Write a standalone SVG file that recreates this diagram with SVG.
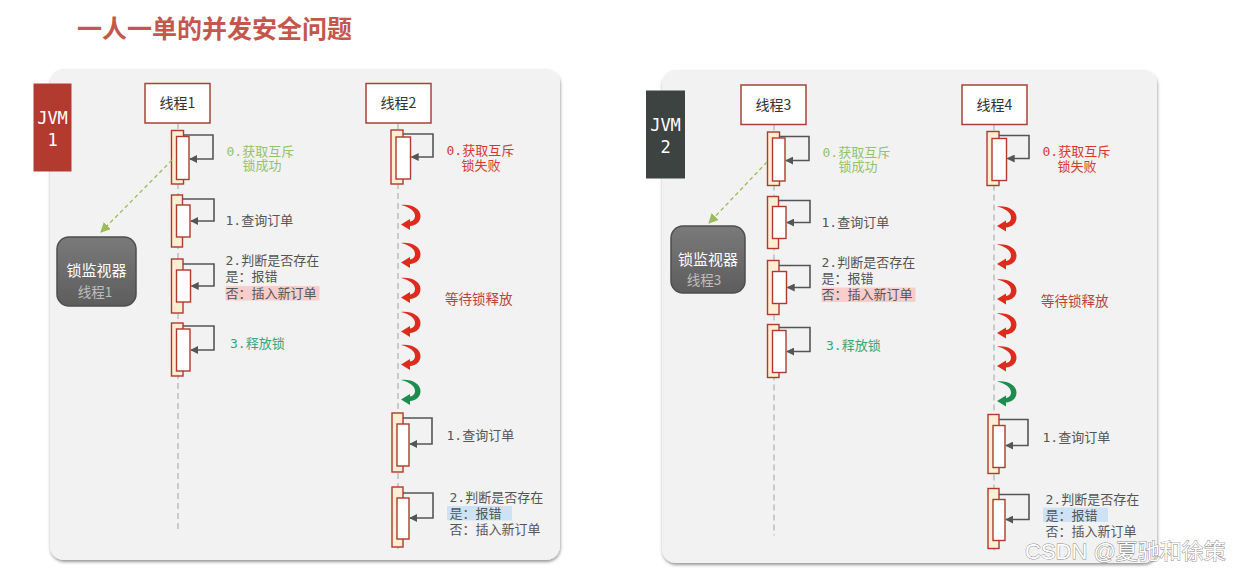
<svg xmlns="http://www.w3.org/2000/svg" xmlns:xlink="http://www.w3.org/1999/xlink" width="1235" height="573" viewBox="0 0 1235 573">
<style>
.panel{fill:#f2f2f2;filter:url(#sh)}
.tbox{fill:#fff;stroke:#a8433a;stroke-width:1.5}
.tlabel{font-family:"Noto Sans CJK SC","Noto Sans",sans-serif;font-size:14px;fill:#333;text-anchor:middle}
.life{stroke:#bdbdbd;stroke-width:1.5;stroke-dasharray:6 4;fill:none}
.ao{fill:#fdeed4;stroke:#b03a2e;stroke-width:1.4}
.ai{fill:#fff;stroke:#b03a2e;stroke-width:1.4}
.self{fill:none;stroke:#555;stroke-width:1.6;marker-end:url(#ah)}
.lb{font-family:"DejaVu Sans Mono","Noto Sans CJK SC",monospace;font-size:13px;fill:#555}
.ok{fill:#93c36c}
.fail{fill:#d23a2e}
.rel{fill:#35a67a}
.wait{font-family:"Noto Sans CJK SC","Noto Sans",sans-serif;font-size:13.5px;fill:#b9443a}
.jvmt{font-family:"DejaVu Sans Mono",monospace;font-size:17px;fill:#fff;text-anchor:middle}
.mon{fill:url(#mg);stroke:#4e4e4e;stroke-width:1.5}
.mt{font-family:"Noto Sans CJK SC","Noto Sans",sans-serif;text-anchor:middle}
.dash{fill:none;stroke:#9bbb59;stroke-width:1.3;stroke-dasharray:4 3;marker-end:url(#gh)}
</style>
<defs>
<filter id="sh" x="-5%" y="-5%" width="110%" height="110%">
<feDropShadow dx="0.5" dy="2" stdDeviation="1.5" flood-color="#000" flood-opacity="0.4"/>
</filter>
<linearGradient id="mg" x1="0" y1="0" x2="0" y2="1">
<stop offset="0" stop-color="#7a7a7a"/>
<stop offset="1" stop-color="#5d5d5d"/>
</linearGradient>
<marker id="ah" viewBox="0 0 10 10" refX="9" refY="5" markerWidth="8" markerHeight="8" markerUnits="userSpaceOnUse" orient="auto">
<path d="M0,0 L10,5 L0,10 z" fill="#555"/>
</marker>
<marker id="gh" viewBox="0 0 10 10" refX="9" refY="5" markerWidth="10" markerHeight="10" markerUnits="userSpaceOnUse" orient="auto">
<path d="M0,0 L10,5 L0,10 z" fill="#9bbb59"/>
</marker>
<path id="curl" d="M0,0 C11,-1 19.5,4 19.5,11 C19.5,17 15,20.5 9,21 L9,25 L0,19.5 L9,14 L9,16.5 C12.5,16 14,13.5 14,11 C14,5.5 8,2 0,0 Z"/>
</defs>

<g id="title">
<text x="77" y="38" font-family="Noto Sans CJK SC,sans-serif" font-size="25" font-weight="bold" fill="#c4574c">一人一单的并发安全问题</text>
</g>

<g id="panel-left"><rect class="panel" x="50" y="69" width="510" height="491" rx="14"/></g>
<g id="panel-right"><rect class="panel" x="662" y="70" width="495" height="493" rx="14"/></g>

<g id="jvm1">
<rect x="33.5" y="83.5" width="38" height="88" fill="#b33a2e"/>
<text class="jvmt" x="52.5" y="124">JVM</text>
<text class="jvmt" x="52.5" y="146">1</text>
</g>
<g id="jvm2">
<rect x="646" y="90.5" width="39" height="88" fill="#3c4341"/>
<text class="jvmt" x="665.5" y="131">JVM</text>
<text class="jvmt" x="665.5" y="153">2</text>
</g>

<g id="monitor1">
<rect class="mon" x="57" y="237" width="79" height="69" rx="12"/>
<text class="mt" x="96.5" y="276" font-size="15" fill="#fff">锁监视器</text>
<text class="mt" x="95" y="296.5" font-size="13.5" fill="#bdbdbd">线程1</text>
</g>
<g id="monitor3">
<rect class="mon" x="671" y="226" width="74" height="67" rx="12"/>
<text class="mt" x="708" y="265" font-size="15" fill="#fff">锁监视器</text>
<text class="mt" x="704" y="285" font-size="13.5" fill="#bdbdbd">线程3</text>
</g>

<g id="thread1">
<line class="life" x1="178" y1="123" x2="178" y2="533"/>
<rect class="tbox" x="145" y="83.5" width="65" height="39.5"/>
<text class="tlabel" x="177.5" y="108">线程1</text>
<rect class="ao" x="171.5" y="130.5" width="12" height="53.5"/><rect class="ai" x="176.5" y="136.5" width="12.5" height="43"/>
<rect class="ao" x="171.5" y="195" width="11" height="52"/><rect class="ai" x="176.5" y="205" width="13.5" height="32"/>
<rect class="ao" x="171.5" y="259" width="11.5" height="54"/><rect class="ai" x="176.5" y="270" width="14" height="32"/>
<rect class="ao" x="171.5" y="323" width="11.5" height="53"/><rect class="ai" x="176.5" y="329" width="13.5" height="42"/>
<text class="lb ok" x="226.5" y="155.5">0.获取互斥</text>
<text class="lb ok" x="262" y="169.5" text-anchor="middle">锁成功</text>
<text class="lb" x="225.5" y="225">1.查询订单</text>
<text class="lb" x="225.5" y="265">2.判断是否存在</text>
<text class="lb" x="225.5" y="281">是：报错</text>
<rect x="225.5" y="286" width="94" height="14.5" fill="#f8cdcc"/>
<text class="lb" x="225.5" y="297.5">否：插入新订单</text>
<text class="lb rel" x="230" y="348">3.释放锁</text>
</g>

<g id="thread2">
<line class="life" x1="398" y1="123" x2="398" y2="550"/>
<rect class="tbox" x="366" y="83.5" width="65" height="39.5"/>
<text class="tlabel" x="398.5" y="108">线程2</text>
<rect class="ao" x="391" y="130" width="12" height="54"/><rect class="ai" x="396" y="137" width="14.5" height="42"/>
<rect class="ao" x="392" y="413" width="11" height="59"/><rect class="ai" x="397" y="424" width="12" height="42"/>
<rect class="ao" x="392" y="487" width="11" height="60"/><rect class="ai" x="397" y="498" width="12" height="41"/>
<text class="lb fail" x="446.5" y="154.5">0.获取互斥</text>
<text class="lb fail" x="481" y="169.5" text-anchor="middle">锁失败</text>
<text class="wait" x="445" y="304">等待锁释放</text>
<text class="lb" x="446.5" y="440">1.查询订单</text>
<text class="lb" x="449.5" y="502">2.判断是否存在</text>
<rect x="447" y="506" width="65" height="14.5" fill="#cde3f5"/>
<text class="lb" x="449.5" y="518">是：报错</text>
<text class="lb" x="449.5" y="534">否：插入新订单</text>
</g>

<g id="thread3" transform="translate(596,1.5)">
<line class="life" x1="178" y1="123" x2="178" y2="534"/>
<rect class="tbox" x="145" y="83.5" width="65" height="39.5"/>
<text class="tlabel" x="177.5" y="108">线程3</text>
<rect class="ao" x="171.5" y="130.5" width="12" height="53.5"/><rect class="ai" x="176.5" y="136.5" width="12.5" height="43"/>
<rect class="ao" x="171.5" y="195" width="11" height="52"/><rect class="ai" x="176.5" y="205" width="13.5" height="32"/>
<rect class="ao" x="171.5" y="259" width="11.5" height="54"/><rect class="ai" x="176.5" y="270" width="14" height="32"/>
<rect class="ao" x="171.5" y="323" width="11.5" height="53"/><rect class="ai" x="176.5" y="329" width="13.5" height="42"/>
<text class="lb ok" x="226.5" y="155.5">0.获取互斥</text>
<text class="lb ok" x="262" y="169.5" text-anchor="middle">锁成功</text>
<text class="lb" x="225.5" y="225">1.查询订单</text>
<text class="lb" x="225.5" y="265">2.判断是否存在</text>
<text class="lb" x="225.5" y="281">是：报错</text>
<rect x="225.5" y="286" width="94" height="14.5" fill="#f8cdcc"/>
<text class="lb" x="225.5" y="297.5">否：插入新订单</text>
<text class="lb rel" x="230" y="348">3.释放锁</text>
</g>

<g id="thread4" transform="translate(596,1.5)">
<line class="life" x1="398" y1="123" x2="398" y2="550"/>
<rect class="tbox" x="366" y="83.5" width="65" height="39.5"/>
<text class="tlabel" x="398.5" y="108">线程4</text>
<rect class="ao" x="391" y="130" width="12" height="54"/><rect class="ai" x="396" y="137" width="14.5" height="42"/>
<rect class="ao" x="392" y="413" width="11" height="59"/><rect class="ai" x="397" y="424" width="12" height="42"/>
<rect class="ao" x="392" y="487" width="11" height="60"/><rect class="ai" x="397" y="498" width="12" height="41"/>
<text class="lb fail" x="446.5" y="154.5">0.获取互斥</text>
<text class="lb fail" x="481" y="169.5" text-anchor="middle">锁失败</text>
<text class="wait" x="445" y="304">等待锁释放</text>
<text class="lb" x="446.5" y="440">1.查询订单</text>
<text class="lb" x="449.5" y="502">2.判断是否存在</text>
<rect x="447" y="506" width="65" height="14.5" fill="#cde3f5"/>
<text class="lb" x="449.5" y="518">是：报错</text>
<text class="lb" x="449.5" y="534">否：插入新订单</text>
</g>

<g id="connectors">
<g id="conn-left">
<path class="self" d="M183.5,135 H213 V159 H190"/>
<path class="self" d="M182.5,199 H214 V221 H191"/>
<path class="self" d="M183,264 H214 V286 H191.5"/>
<path class="self" d="M183,326 H214 V350 H191"/>
<path class="self" d="M403,134 H433 V157 H411.5"/>
<path class="self" d="M403,418 H432 V444 H410"/>
<path class="self" d="M403,493 H433 V518 H410"/>
<path class="dash" d="M172,160 L101,232"/>
<use xlink:href="#curl" x="401" y="205" fill="#df2a1e"/>
<use xlink:href="#curl" x="401" y="243" fill="#df2a1e"/>
<use xlink:href="#curl" x="401" y="278" fill="#df2a1e"/>
<use xlink:href="#curl" x="401" y="312" fill="#df2a1e"/>
<use xlink:href="#curl" x="401" y="345" fill="#df2a1e"/>
<use xlink:href="#curl" x="401" y="380" fill="#1e8c4e"/>
</g>
<g id="conn-right-threads" transform="translate(596,1.5)">
<path class="self" d="M183.5,135 H213 V159 H190"/>
<path class="self" d="M182.5,199 H214 V221 H191"/>
<path class="self" d="M183,264 H214 V286 H191.5"/>
<path class="self" d="M183,326 H214 V350 H191"/>
<path class="self" d="M403,134 H433 V157 H411.5"/>
<path class="self" d="M403,418 H432 V444 H410"/>
<path class="self" d="M403,493 H433 V518 H410"/>
<use xlink:href="#curl" x="401" y="205" fill="#df2a1e"/>
<use xlink:href="#curl" x="401" y="243" fill="#df2a1e"/>
<use xlink:href="#curl" x="401" y="278" fill="#df2a1e"/>
<use xlink:href="#curl" x="401" y="312" fill="#df2a1e"/>
<use xlink:href="#curl" x="401" y="345" fill="#df2a1e"/>
<use xlink:href="#curl" x="401" y="380" fill="#1e8c4e"/>
</g>
<path class="dash" d="M767,162 L709,223"/>
</g>

<g id="watermark">
<text x="1025" y="559" font-family="Liberation Sans,Noto Sans CJK SC,sans-serif" font-size="22" fill="#fff" stroke="#8a8a8a" stroke-width="0.9" paint-order="stroke">CSDN @夏驰和徐策</text>
</g>
</svg>
